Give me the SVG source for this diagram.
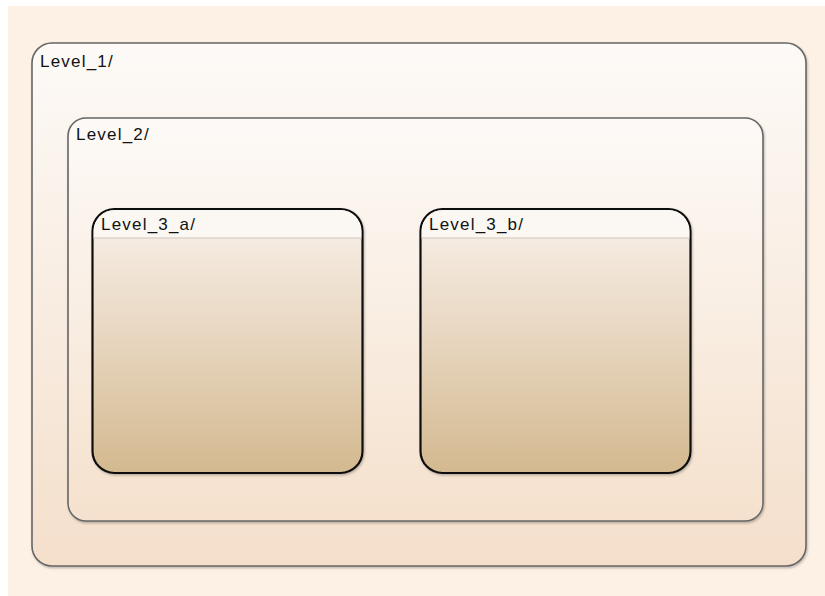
<svg xmlns="http://www.w3.org/2000/svg" width="825" height="596" viewBox="0 0 825 596">
<defs>
<linearGradient id="gOuter" x1="0" y1="0" x2="0" y2="1">
<stop offset="0" stop-color="#fdfaf7"/>
<stop offset="1" stop-color="#f4dfcb"/>
</linearGradient>
<linearGradient id="gMid" x1="0" y1="0" x2="0" y2="1">
<stop offset="0" stop-color="#fdfaf7"/>
<stop offset="1" stop-color="#f5e1cd"/>
</linearGradient>
<linearGradient id="gInner" x1="0" y1="0" x2="0" y2="1">
<stop offset="0" stop-color="#f9f1ea"/>
<stop offset="0.45" stop-color="#e9d8c3"/>
<stop offset="1" stop-color="#d3b98f"/>
</linearGradient>
<filter id="sh" x="-5%" y="-5%" width="110%" height="110%">
<feDropShadow dx="1" dy="1.5" stdDeviation="1" flood-color="#000" flood-opacity="0.25"/>
</filter>
</defs>
<style>
.lbl{font-family:"Liberation Sans",Arial,sans-serif;font-size:17px;letter-spacing:1.2px;fill:#111}
.st12{stroke:#666;stroke-width:1.6}
.st3{stroke:#111;stroke-width:2.2}
</style>
<rect x="0" y="0" width="825" height="596" fill="#ffffff"/>
<rect x="8" y="6" width="817" height="590" fill="#fdf1e6"/>
<g id="Level_1">
<rect x="32" y="43" width="774" height="523" rx="20" ry="20" fill="url(#gOuter)" class="st12" filter="url(#sh)"/>
<text x="40" y="67" class="lbl">Level_1/</text>
</g>
<g id="Level_2">
<rect x="68" y="118" width="695" height="403" rx="18" ry="18" fill="url(#gMid)" class="st12" filter="url(#sh)"/>
<text x="76" y="140" class="lbl">Level_2/</text>
</g>
<g id="Level_3_a">
<rect x="92.5" y="209" width="270" height="264" rx="22" ry="22" fill="url(#gInner)" class="st3" filter="url(#sh)"/>
<path d="M93.6 237.5 H361.4 V231 A21 21 0 0 0 340.5 210.1 H114.5 A21 21 0 0 0 93.6 231 Z" fill="#fbf8f3"/>
<line x1="93.6" y1="238" x2="361.4" y2="238" stroke="#ddd6cc" stroke-width="1.5"/>
<text x="101" y="230" class="lbl">Level_3_a/</text>
</g>
<g id="Level_3_b">
<rect x="420.5" y="209" width="270" height="264" rx="22" ry="22" fill="url(#gInner)" class="st3" filter="url(#sh)"/>
<path d="M421.6 237.5 H689.4 V231 A21 21 0 0 0 668.5 210.1 H442.5 A21 21 0 0 0 421.6 231 Z" fill="#fbf8f3"/>
<line x1="421.6" y1="238" x2="689.4" y2="238" stroke="#ddd6cc" stroke-width="1.5"/>
<text x="429" y="230" class="lbl">Level_3_b/</text>
</g>
<g id="connectors"/>
</svg>
